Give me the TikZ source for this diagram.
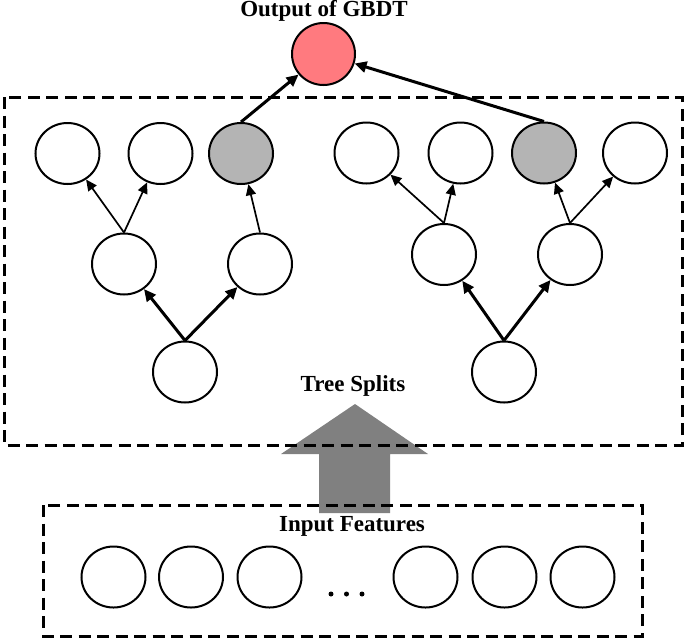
\documentclass[tikz,border=0pt]{standalone}
\usepackage{fontspec}
\setmainfont{Liberation Serif}
\usetikzlibrary{shapes.geometric,arrows.meta}
\definecolor{outred}{HTML}{FF7A7F}
\definecolor{leafgray}{HTML}{B4B4B4}
\definecolor{bigarrow}{HTML}{808080}
\tikzset{
  nd/.style={ellipse,draw=black,line width=2pt,fill=white,minimum width=64pt,minimum height=61pt,inner sep=0pt},
  grayleaf/.style={nd,fill=leafgray},
  outnode/.style={nd,fill=outred,minimum width=63pt,minimum height=62pt},
  thinedge/.style={line width=1.7pt,-{Triangle[length=11pt,width=10pt]}},
  thickedge/.style={line width=3pt,-{Triangle[length=12pt,width=11pt]}},
  dbox/.style={draw=black,line width=3pt,dash pattern=on 12pt off 6.5pt},
  lbl/.style={font=\fontsize{23pt}{26pt}\selectfont\bfseries,inner sep=0pt},
  fdot/.style={circle,fill=black,minimum size=5pt,inner sep=0pt}
}
\begin{document}
\begin{tikzpicture}[x=1pt,y=-1pt]
\useasboundingbox (0,0) rectangle (685,641);
% big gray arrow (drawn under the boxes)
\fill[bigarrow] (319,513) -- (319,454) -- (281,454) -- (355,404) -- (428,454) -- (390,454) -- (390,513) -- cycle;
% boxes
\draw[dbox] (4,97) rectangle (682,445);
\draw[dbox] (43,505) rectangle (642,636);
% labels
\node[lbl] (lout) at (324,11) {Output of GBDT};
\node[lbl] (lsplit) at (353,386) {Tree Splits};
\node[lbl] (lin) at (352,526) {Input Features};
% output
\node[outnode] (out) at (323.5,54) {};
% left tree
\node[nd] (a1) at (67.5,153.5) {};
\node[nd] (a2) at (160.5,153.5) {};
\node[grayleaf] (a3) at (241,153.5) {};
\node[nd] (am1) at (124,264) {};
\node[nd] (am2) at (260,264) {};
\node[nd] (ar) at (185,372) {};
% right tree
\node[nd] (b1) at (366.5,153) {};
\node[nd] (b2) at (460.5,153) {};
\node[grayleaf] (b3) at (544,153) {};
\node[nd] (b4) at (635,153) {};
\node[nd] (bm1) at (444,254.5) {};
\node[nd] (bm2) at (570,254.5) {};
\node[nd] (br) at (504,372) {};
% edges
\draw[thickedge] (ar.north) -- (am1);
\draw[thickedge] (ar.north) -- (am2);
\draw[thinedge] (am1.north) -- (a1);
\draw[thinedge] (am1.north) -- (a2);
\draw[thinedge] (am2.north) -- (a3);
\draw[thickedge] (br.north) -- (bm1);
\draw[thickedge] (br.north) -- (bm2);
\draw[thinedge] (bm1.north) -- (b1);
\draw[thinedge] (bm1.north) -- (b2);
\draw[thinedge] (bm2.north) -- (b3);
\draw[thinedge] (bm2.north) -- (b4);
\draw[thickedge] (a3.north) -- (out);
\draw[thickedge] (b3.north) -- (out);
% input features
\node[nd] (i1) at (113.5,577) {};
\node[nd] (i2) at (191,577) {};
\node[nd] (i3) at (269.5,577) {};
\node[nd] (i4) at (425.5,577) {};
\node[nd] (i5) at (504.5,577) {};
\node[nd] (i6) at (582.5,577) {};
\node[fdot] (d1) at (331,594) {};
\node[fdot] (d2) at (346.5,594) {};
\node[fdot] (d3) at (362,594) {};
\end{tikzpicture}
\end{document}
